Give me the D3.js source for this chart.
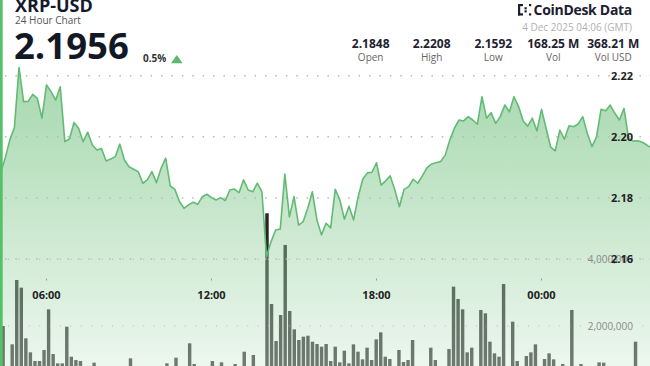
<!DOCTYPE html>
<html>
<head>
<meta charset="utf-8">
<script src="https://cdn.jsdelivr.net/npm/d3@7"></script>
<style>
  body { margin: 0; background: #fff; }
  svg { display: block; font-family: "Open Sans", sans-serif; }
</style>
</head>
<body>
<svg id="chart" width="650" height="366"></svg>
<script>
// 10-minute closes, 3 Dec 04:20 -> 4 Dec 04:10 (GMT)
var prices = [
  2.1882, 2.1931, 2.1990, 2.2030, 2.2227, 2.2115, 2.2116, 2.2139, 2.2126, 2.2061,
  2.2170, 2.2148, 2.2120, 2.2164, 2.1984, 2.1993, 2.2047, 2.2028, 2.1984, 2.2015,
  2.1973, 2.1957, 2.1962, 2.1921, 2.1927, 2.1935, 2.1976, 2.1924, 2.1902, 2.1894,
  2.1886, 2.1848, 2.1859, 2.1886, 2.1850, 2.1897, 2.1930, 2.1839, 2.1828, 2.1788,
  2.1766, 2.1777, 2.1786, 2.1779, 2.1804, 2.1812, 2.1801, 2.1793, 2.1801, 2.1791,
  2.1826, 2.1829, 2.1817, 2.1859, 2.1826, 2.1820, 2.1848, 2.1820, 2.1608, 2.1657,
  2.1695, 2.1698, 2.1878, 2.1738, 2.1804, 2.1711, 2.1722, 2.1766, 2.1820, 2.1728,
  2.1679, 2.1717, 2.1702, 2.1828, 2.1793, 2.1730, 2.1773, 2.1728, 2.1804, 2.1861,
  2.1882, 2.1884, 2.1915, 2.1842, 2.1856, 2.1872, 2.1826, 2.1771, 2.1828, 2.1837,
  2.1861, 2.1848, 2.1872, 2.1898, 2.1911, 2.1915, 2.1919, 2.1940, 2.1990, 2.2028,
  2.2055, 2.2052, 2.2066, 2.2055, 2.2041, 2.2131, 2.2061, 2.2079, 2.2044, 2.2066,
  2.2104, 2.2082, 2.2131, 2.2099, 2.2052, 2.2035, 2.2061, 2.2019, 2.2090, 2.2028,
  2.1966, 2.1954, 2.2022, 2.1992, 2.2036, 2.2033, 2.2042, 2.2066, 2.2011, 2.1968,
  2.2000, 2.2090, 2.2085, 2.2104, 2.2077, 2.2055, 2.2093, 2.1995, 2.1986, 2.1987,
  2.1982, 2.1973, 2.1963, 2.1956
];
// volume per 10-minute bar, in millions
var volumes = [
  2.0, 0.6, 1.45, 3.38, 3.15, 1.63, 1.21, 0.95, 0.95, 1.28,
  2.5, 1.16, 0.88, 0.88, 1.98, 1.08, 0.98, 0.95, 0.7, 0.65,
  0.9, 0.6, 0.5, 0.55, 0.45, 0.6, 0.5, 0.65, 1.03, 0.6,
  0.5, 0.7, 0.55, 0.5, 0.6, 0.7, 0.88, 0.6, 1.05, 0.55,
  0.7, 1.48, 0.86, 0.6, 0.5, 0.7, 0.95, 0.6, 0.91, 0.55,
  0.65, 0.86, 0.6, 1.23, 0.7, 1.13, 0.75, 0.6, 5.38, 2.66,
  1.55, 2.33, 4.43, 2.45, 1.9, 1.58, 1.68, 1.71, 1.53, 1.46,
  1.38, 1.46, 0.95, 1.38, 0.91, 1.26, 0.88, 1.45, 1.23, 1.0,
  1.35, 0.98, 1.6, 1.81, 1.08, 1.01, 0.7, 1.28, 0.92, 0.98,
  1.58, 0.75, 0.6, 0.7, 1.35, 0.98, 0.7, 0.75, 1.31, 3.18,
  2.81, 2.5, 1.21, 1.35, 0.7, 2.48, 2.38, 1.53, 1.18, 1.08,
  3.26, 0.7, 2.13, 0.95, 0.6, 1.1, 1.21, 1.45, 0.7, 1.01,
  1.18, 1.0, 0.65, 0.86, 0.6, 2.48, 0.75, 0.86, 0.5, 0.6,
  0.7, 0.91, 0.9, 0.6, 0.5, 0.55, 0.6, 0.65, 0.7, 1.53,
  0.6, 0.5, 0.55, 0.6
];
var priceTicks = [2.16, 2.18, 2.20, 2.22];
var volTicks = [2000000, 4000000];
var statValues = ["2.1848", "2.2208", "2.1592", "168.25 M", "368.21 M"];
var statLabels = ["Open", "High", "Low", "Vol", "Vol USD"];

var startTime = Date.UTC(2025, 11, 3, 4, 20);
var stepMs = 10 * 60 * 1000;
var data = prices.map(function(p, i) {
  return { t: new Date(startTime + i * stepMs), p: p, v: volumes[i] * 1e6, i: i };
});

var W = 650, H = 366;
var svg = d3.select("#chart");

var x = d3.scaleTime()
  .domain([new Date(startTime), new Date(startTime + 24 * 3600 * 1000)])
  .range([0.67, 660.67]);
var xBar = d3.scaleBand()
  .domain(d3.range(data.length))
  .range([0.825, 656.0])
  .paddingInner(0.25).paddingOuter(0.125);
var yPrice = d3.scaleLinear().domain([2.16, 2.22]).range([259, 75.7]);
var yVol = d3.scaleLinear().domain([0, 4000000]).range([392.7, 259.3]);

// area gradient (sits on top of the volume bars)
var defs = svg.append("defs");
var grad = defs.append("linearGradient")
  .attr("id", "areaGrad")
  .attr("gradientUnits", "userSpaceOnUse")
  .attr("x1", 0).attr("x2", 0).attr("y1", 70).attr("y2", 370);
grad.append("stop").attr("offset", "0%").attr("stop-color", "rgb(43,162,62)").attr("stop-opacity", 0.42);
grad.append("stop").attr("offset", "100%").attr("stop-color", "rgb(214,236,217)").attr("stop-opacity", 0.42);

// volume bars
svg.append("g").selectAll("rect")
  .data(data)
  .enter()
  .append("rect")
    .attr("x", function(d) { return xBar(d.i); })
    .attr("width", xBar.bandwidth())
    .attr("y", function(d) { return yVol(d.v); })
    .attr("height", function(d) { return yVol(0) - yVol(d.v); })
    .style("fill", "#262626");

// price area
var area = d3.area()
  .x(function(d) { return x(d.t); })
  .y0(H)
  .y1(function(d) { return yPrice(d.p); });
svg.append("path")
  .datum(data)
  .attr("d", area)
  .style("fill", "url(#areaGrad)");

// dotted grid lines
var grid = svg.append("g");
grid.selectAll("line.pg")
  .data(priceTicks)
  .enter()
  .append("line")
    .attr("x1", 5).attr("x2", W)
    .attr("y1", function(d) { return yPrice(d); })
    .attr("y2", function(d) { return yPrice(d); })
    .style("stroke", "#b9b9b9")
    .style("stroke-width", 1.5)
    .style("stroke-dasharray", "1.5 8.9");
grid.selectAll("line.vg")
  .data(volTicks)
  .enter()
  .append("line")
    .attr("x1", 8).attr("x2", W)
    .attr("y1", function(d) { return yVol(d); })
    .attr("y2", function(d) { return yVol(d); })
    .style("stroke", "#b9b9b9")
    .style("stroke-width", 1.2)
    .style("stroke-dasharray", "1 9.4");

// price line
var line = d3.line()
  .x(function(d) { return x(d.t); })
  .y(function(d) { return yPrice(d.p); });
svg.append("path")
  .datum(data)
  .attr("d", line)
  .style("fill", "none")
  .style("stroke", "#62bb74")
  .style("stroke-width", 1.6)
  .style("stroke-linejoin", "round");

// x axis: time labels
var timeTicks = x.ticks(d3.utcHour.every(6)).filter(function(t) { return x(t) > 10 && x(t) < W - 10; });
var fmt = d3.utcFormat("%H:%M");
svg.append("g").selectAll("line")
  .data(timeTicks)
  .enter()
  .append("line")
    .attr("x1", function(d) { return x(d); })
    .attr("x2", function(d) { return x(d); })
    .attr("y1", 278.5).attr("y2", 280.5)
    .style("stroke", "#999")
    .style("stroke-width", 1);
svg.append("g").selectAll("text")
  .data(timeTicks)
  .enter()
  .append("text")
    .attr("x", function(d) { return x(d); })
    .attr("y", 299)
    .attr("text-anchor", "middle")
    .style("font-size", "11px")
    .style("font-weight", "bold")
    .style("fill", "#222")
    .text(function(d) { return fmt(d); });

// volume axis labels
svg.append("g").selectAll("text")
  .data(volTicks)
  .enter()
  .append("text")
    .attr("x", 633)
    .attr("y", function(d) { return yVol(d); })
    .attr("dy", "0.35em")
    .attr("text-anchor", "end")
    .style("font-size", "10px")
    .style("fill", "#8a8a8a")
    .text(function(d) { return d3.format(",")(d); });

// price axis labels
svg.append("g").selectAll("text")
  .data(priceTicks)
  .enter()
  .append("text")
    .attr("x", 633)
    .attr("y", function(d) { return yPrice(d); })
    .attr("dy", "0.35em")
    .attr("text-anchor", "end")
    .style("font-size", "11px")
    .style("font-weight", "bold")
    .style("fill", "#222")
    .text(function(d) { return d.toFixed(2); });

// left accent bar
svg.append("rect")
  .attr("x", 0).attr("y", 0)
  .attr("width", 2.7).attr("height", H)
  .style("fill", "#55c06a");

// header, left
svg.append("text")
  .attr("x", 15).attr("y", 12)
  .style("font-size", "18px").style("font-weight", "bold").style("fill", "#141a2b")
  .text("XRP-USD");
svg.append("text")
  .attr("x", 15).attr("y", 23.5)
  .style("font-size", "10px").style("fill", "#555")
  .text("24 Hour Chart");
svg.append("text")
  .attr("x", 14).attr("y", 59)
  .style("font-size", "36.5px").style("font-weight", "bold").style("fill", "#121826")
  .text("2.1956");
svg.append("text")
  .attr("x", 143).attr("y", 62)
  .style("font-size", "10px").style("font-weight", "bold").style("fill", "#333")
  .text("0.5%");
svg.append("path")
  .attr("d", "M171,63.3 L176.8,55 L182.6,63.3 Z")
  .style("fill", "#5cb870");

// header, stats
var statX = [370.7, 431.7, 493.3, 553.3, 613.3];
svg.append("g").selectAll("text")
  .data(statValues)
  .enter()
  .append("text")
    .attr("x", function(d, i) { return statX[i]; })
    .attr("y", 48)
    .attr("text-anchor", "middle")
    .style("font-size", "12px").style("font-weight", "bold").style("fill", "#1e2230")
    .text(function(d) { return d; });
svg.append("g").selectAll("text")
  .data(statLabels)
  .enter()
  .append("text")
    .attr("x", function(d, i) { return statX[i]; })
    .attr("y", 60.5)
    .attr("text-anchor", "middle")
    .style("font-size", "10px").style("fill", "#666")
    .text(function(d) { return d; });

svg.append("text")
  .attr("x", 632).attr("y", 30.5)
  .attr("text-anchor", "end")
  .style("font-size", "10px").style("fill", "#b0b0b0")
  .text("4 Dec 2025 04:06 (GMT)");

// CoinDesk Data logo
var logo = svg.append("g").style("fill", "#1b2030");
logo.append("rect").attr("x", 518).attr("y", 4).attr("width", 2.2).attr("height", 11.5);
logo.append("rect").attr("x", 518).attr("y", 4).attr("width", 5).attr("height", 2.2);
logo.append("rect").attr("x", 518).attr("y", 13.3).attr("width", 5).attr("height", 2.2);
logo.append("rect").attr("x", 524.5).attr("y", 7.2).attr("width", 2.2).attr("height", 2.2);
logo.append("rect").attr("x", 524.5).attr("y", 10.3).attr("width", 2.2).attr("height", 2.2);
logo.append("rect").attr("x", 529).attr("y", 4).attr("width", 2.2).attr("height", 2.2);
logo.append("rect").attr("x", 529).attr("y", 13.3).attr("width", 2.2).attr("height", 2.2);
logo.append("text")
  .attr("x", 632).attr("y", 14.5)
  .attr("text-anchor", "end")
  .style("font-size", "14px").style("font-weight", "bold").style("letter-spacing", "-0.3px")
  .text("CoinDesk Data");
</script>
</body>
</html>
